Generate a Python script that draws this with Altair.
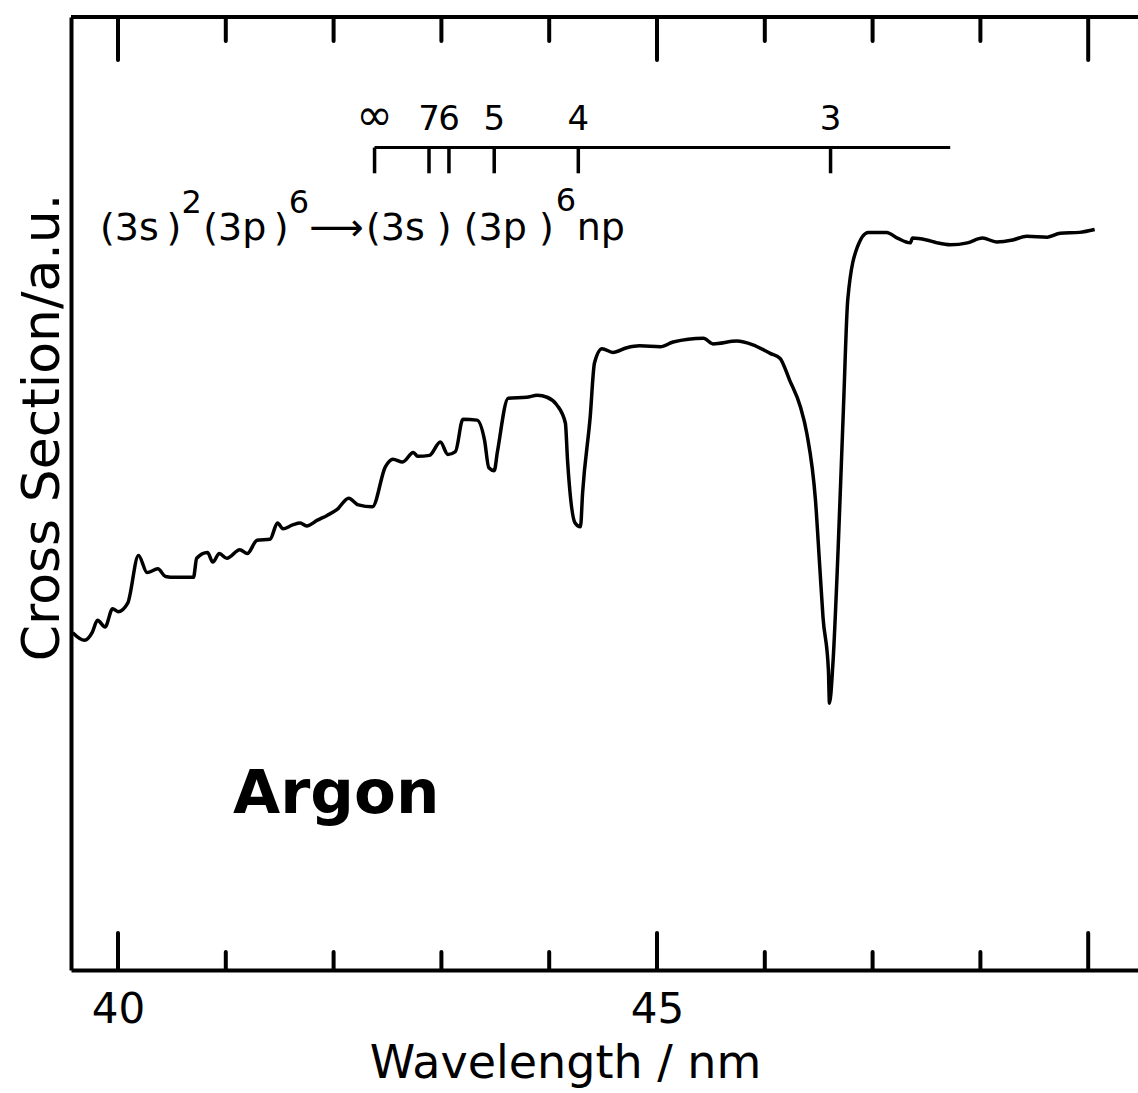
import altair as alt
import pandas as pd

# ---- spectrum (wavelength in nm, cross section in a.u.) ----
wavelength = [39.58, 39.69, 39.76, 39.81, 39.88, 39.95, 40.00, 40.09, 40.19, 40.27,
              40.37, 40.44, 40.53, 40.70, 40.73, 40.83, 40.88, 40.94, 41.01, 41.13,
              41.20, 41.29, 41.41, 41.48, 41.53, 41.62, 41.69, 41.75, 41.85, 41.94,
              42.03, 42.14, 42.23, 42.36, 42.48, 42.55, 42.64, 42.74, 42.78, 42.89,
              42.99, 43.06, 43.13, 43.20, 43.33, 43.40, 43.44, 43.49, 43.52, 43.62,
              43.79, 43.89, 43.98, 44.07, 44.15, 44.17, 44.24, 44.29, 44.31, 44.38,
              44.42, 44.49, 44.59, 44.72, 44.84, 45.03, 45.15, 45.43, 45.52, 45.74,
              45.89, 46.05, 46.14, 46.23, 46.33, 46.39, 46.47, 46.51, 46.54, 46.59,
              46.60, 46.63, 46.68, 46.73, 46.77, 46.86, 46.96, 47.13, 47.23, 47.35,
              47.37, 47.50, 47.60, 47.72, 47.88, 48.02, 48.15, 48.30, 48.43, 48.62,
              48.74, 48.92, 49.06]
cross_section = [35.4, 34.6, 35.4, 36.7, 36.0, 37.9, 37.6, 38.5, 43.5, 41.7,
                 42.1, 41.3, 41.2, 41.2, 43.2, 43.8, 42.8, 43.7, 43.2, 44.1,
                 43.7, 45.1, 45.2, 46.9, 46.3, 46.7, 46.9, 46.6, 47.2, 47.7,
                 48.3, 49.5, 48.8, 48.6, 52.8, 53.6, 53.3, 54.3, 53.9, 54.0,
                 55.4, 54.1, 54.4, 57.8, 57.7, 55.6, 52.7, 52.4, 54.4, 60.0,
                 60.1, 60.3, 60.1, 59.3, 57.4, 53.5, 46.9, 46.5, 50.1, 58.0,
                 63.7, 65.2, 64.8, 65.3, 65.5, 65.4, 65.9, 66.3, 65.7, 66.0,
                 65.6, 64.7, 64.2, 61.9, 59.1, 56.3, 49.3, 42.3, 37.0, 31.5,
                 28.0, 31.8, 44.1, 59.1, 70.4, 75.9, 77.4, 77.4, 76.8, 76.3,
                 76.8, 76.6, 76.3, 76.1, 76.3, 76.8, 76.4, 76.6, 77.0, 76.9,
                 77.3, 77.4, 77.7]

# ---- Rydberg series markers (3s -> np) ----
series_labels = ["\u221e", "7", "6", "5", "4", "3"]
series_label_size = [44, 34, 34, 34, 34, 34]
series_wl = [42.38, 42.885, 43.07, 43.49, 44.27, 46.61]
series_line = [42.38, 47.72]
series_level = 86.3
series_tick_end = 83.6
series_label_level = 88.1

# ---- axis ticks ----
x_domain = [39.564, 49.462]
major_ticks = [40, 45, 49]
minor_ticks = [41, 42, 43, 44, 46, 47, 48]
label_values = [40, 45]

# ---- formula pieces (text, x nm, y a.u., size) ----
formula_text = ["(3s\u2009)", "2", "(3p\u2009)", "6", "\u27f6", "(3s ) (3p )", "6", "np"]
formula_x = [39.833, 40.590, 40.790, 41.585, 41.775, 42.300, 44.060, 44.255]
formula_y = [76.6, 79.4, 76.6, 79.4, 76.6, 76.6, 79.6, 76.6]
formula_size = [38, 32, 38, 32, 38, 38, 32, 38]

FONT = "DejaVu Sans"
W, H = 1067, 953

xs = alt.Scale(domain=x_domain, nice=False, zero=False)
ys = alt.Scale(domain=[0, 100], nice=False, zero=False)

spec_df = pd.DataFrame({"wl": wavelength, "cs": cross_section})

base_x = alt.X("wl:Q", scale=xs,
               axis=alt.Axis(values=label_values, ticks=False, tickSize=0,
                             labelFontSize=42, labelFont=FONT, labelColor="black",
                             labelPadding=52, labelBaseline="alphabetic",
                             domainColor="black", domainWidth=4, grid=False,
                             title="Wavelength / nm", titleFont=FONT,
                             titleFontSize=46, titleFontWeight="normal",
                             titleColor="black", titleX=494, titleY=107,
                             titleAlign="center", titleBaseline="alphabetic",
                             format="d"))
base_y = alt.Y("cs:Q", scale=ys,
               axis=alt.Axis(ticks=False, labels=False, grid=False,
                             domainColor="black", domainWidth=4,
                             title="Cross  Section/a.u.", titleFont=FONT,
                             titleFontSize=52, titleFontWeight="normal",
                             titleColor="black", titleAngle=270,
                             titleX=-13, titleY=410, titleAlign="center",
                             titleBaseline="alphabetic"))

curve = alt.Chart(spec_df).mark_line(color="black", strokeWidth=3.5,
                                      strokeJoin="round",
                                      interpolate="monotone").encode(x=base_x, y=base_y)

# top frame line
top_line = alt.Chart(pd.DataFrame({"v": [100]})).mark_rule(
    color="black", strokeWidth=4).encode(y=alt.Y("v:Q", scale=ys))

maj_df = pd.DataFrame({"t": major_ticks})
min_df = pd.DataFrame({"t": minor_ticks})
tick_style = dict(color="black", strokeWidth=4, strokeCap="round")
top_major = alt.Chart(maj_df).mark_rule(**tick_style).encode(
    x=alt.X("t:Q", scale=xs), y=alt.value(0), y2=alt.value(43))
top_minor = alt.Chart(min_df).mark_rule(**tick_style).encode(
    x=alt.X("t:Q", scale=xs), y=alt.value(0), y2=alt.value(24))
bot_major = alt.Chart(maj_df).mark_rule(**tick_style).encode(
    x=alt.X("t:Q", scale=xs), y=alt.value(H), y2=alt.value(H - 37))
bot_minor = alt.Chart(min_df).mark_rule(**tick_style).encode(
    x=alt.X("t:Q", scale=xs), y=alt.value(H), y2=alt.value(H - 18))

# series indicator
sl_df = pd.DataFrame({"a": [series_line[0]], "b": [series_line[1]], "lv": [series_level]})
s_line = alt.Chart(sl_df).mark_rule(color="black", strokeWidth=3).encode(
    x=alt.X("a:Q", scale=xs), x2="b:Q", y=alt.Y("lv:Q", scale=ys))
st_df = pd.DataFrame({"wl": series_wl, "lab": series_labels, "sz": series_label_size,
                      "y0": [series_level] * len(series_wl),
                      "y1": [series_tick_end] * len(series_wl),
                      "yl": [series_label_level] * len(series_wl)})
s_ticks = alt.Chart(st_df).mark_rule(color="black", strokeWidth=3.5).encode(
    x=alt.X("wl:Q", scale=xs), y=alt.Y("y0:Q", scale=ys), y2="y1:Q")
s_labels = alt.Chart(st_df).mark_text(font=FONT, color="black",
                                      align="center", baseline="alphabetic").encode(
    x=alt.X("wl:Q", scale=xs), y=alt.Y("yl:Q", scale=ys), text="lab:N",
    size=alt.Size("sz:Q", scale=None, legend=None))

# formula
f_df = pd.DataFrame({"t": formula_text, "x": formula_x, "y": formula_y, "s": formula_size})
formula = alt.Chart(f_df).mark_text(font=FONT, color="black", align="left",
                                    baseline="alphabetic").encode(
    x=alt.X("x:Q", scale=xs), y=alt.Y("y:Q", scale=ys), text="t:N",
    size=alt.Size("s:Q", scale=None, legend=None))

# Argon label
ar_df = pd.DataFrame({"t": ["Argon"], "x": [41.067], "y": [16.5]})
argon = alt.Chart(ar_df).mark_text(font=FONT, fontSize=61, fontWeight="bold",
                                   color="black", align="left",
                                   baseline="alphabetic").encode(
    x=alt.X("x:Q", scale=xs), y=alt.Y("y:Q", scale=ys), text="t:N")

chart = alt.layer(curve, top_line, top_major, top_minor, bot_major, bot_minor,
                  s_line, s_ticks, s_labels, formula, argon).properties(
    width=W, height=H,
    autosize=alt.AutoSizeParams(type="none"),
    padding={"left": 71, "top": 17, "right": 0, "bottom": 123},
    background="white",
).configure_view(strokeWidth=0)

chart.save("out.html", embed_options={"renderer": "svg", "actions": False})
